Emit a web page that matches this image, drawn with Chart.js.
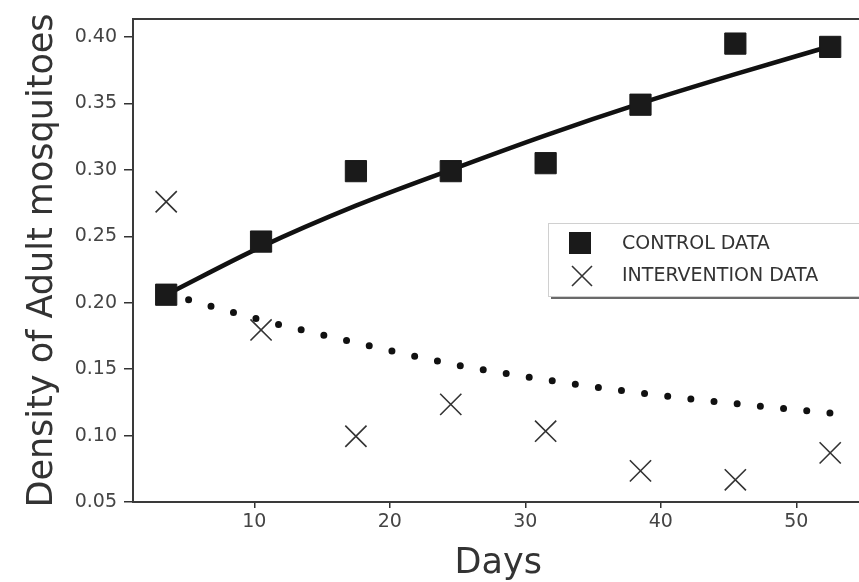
<!DOCTYPE html>
<html>
<head>
<meta charset="utf-8">
<title>Density of Adult mosquitoes</title>
<script src="https://cdn.jsdelivr.net/npm/chart.js@4.4.1/dist/chart.umd.min.js"></script>
<style>
  html, body { margin: 0; padding: 0; background: #fff; overflow: hidden; }
  #wrap { width: 880px; height: 582px; }
</style>
</head>
<body>
<div id="wrap"><canvas id="mosquitoChart" width="880" height="582"></canvas></div>
<script>
// weekly sampling days
const days = [3.5, 10.5, 17.5, 24.5, 31.5, 38.5, 45.5, 52.5];

// observed densities
const controlData = [0.206, 0.246, 0.299, 0.299, 0.305, 0.349, 0.395, 0.3925];
const interventionData = [0.276, 0.1795, 0.0995, 0.1235, 0.1033, 0.0734, 0.0667, 0.087];

// fitted curves
const controlFit = [0.206, 0.242, 0.273, 0.300, 0.326, 0.350, 0.372, 0.393];
const interventionFit = [0.207, 0.187, 0.170, 0.154, 0.142, 0.132, 0.124, 0.117];

const xTicks = [10, 20, 30, 40, 50];
const yTicks = [0.05, 0.10, 0.15, 0.20, 0.25, 0.30, 0.35, 0.40];

const legendLabels = ['CONTROL DATA', 'INTERVENTION DATA'];

const FONT = "'DejaVu Sans', Verdana, sans-serif";
const INK = '#1a1a1a';

const toPoints = (values) => days.map((d, i) => ({ x: d, y: values[i] }));

// frame round the plot area (matplotlib style spines)
const framePlugin = {
  id: 'frame',
  afterDatasetsDraw(chart) {
    const { ctx, chartArea: a } = chart;
    ctx.save();
    ctx.strokeStyle = '#3a3a3a';
    ctx.lineWidth = 2;
    ctx.strokeRect(a.left, a.top, a.right - a.left, a.bottom - a.top);
    ctx.restore();
  }
};

// legend box sitting inside the plot, right side
const boxLegendPlugin = {
  id: 'boxLegend',
  afterDraw(chart) {
    const { ctx } = chart;
    const x = 548, y = 223, w = 400, h = 73;
    ctx.save();
    // shadow
    ctx.fillStyle = '#6a6a6a';
    ctx.fillRect(x + 3, y + 3, w, h);
    ctx.fillStyle = '#fff';
    ctx.fillRect(x, y, w, h);
    ctx.strokeStyle = '#d0d0d0';
    ctx.lineWidth = 1;
    ctx.strokeRect(x + 0.5, y + 0.5, w, h);

    // square marker
    ctx.fillStyle = INK;
    ctx.fillRect(569, 232, 22, 22);
    // x marker
    ctx.strokeStyle = '#333';
    ctx.lineWidth = 1.6;
    ctx.beginPath();
    ctx.moveTo(572, 266); ctx.lineTo(592, 286);
    ctx.moveTo(592, 266); ctx.lineTo(572, 286);
    ctx.stroke();

    ctx.fillStyle = '#333';
    ctx.font = '19px ' + FONT;
    ctx.textBaseline = 'middle';
    ctx.textAlign = 'left';
    ctx.fillText(legendLabels[0], 622, 244);
    ctx.fillText(legendLabels[1], 622, 276);
    ctx.restore();
  }
};

const ctx = document.getElementById('mosquitoChart').getContext('2d');
new Chart(ctx, {
  data: {
    datasets: [
      {
        type: 'scatter',
        label: legendLabels[0],
        data: toPoints(controlData),
        pointStyle: 'rect',
        pointRadius: 15,
        pointBackgroundColor: INK,
        pointBorderColor: INK,
        pointBorderWidth: 1,
        order: 0
      },
      {
        type: 'scatter',
        label: legendLabels[1],
        data: toPoints(interventionData),
        pointStyle: 'crossRot',
        pointRadius: 15,
        pointBorderColor: '#333',
        pointBorderWidth: 1.6,
        order: 0
      },
      {
        type: 'line',
        label: 'control fit',
        data: toPoints(controlFit),
        borderColor: '#111',
        borderWidth: 4.5,
        pointRadius: 0,
        cubicInterpolationMode: 'monotone',
        fill: false,
        order: 1
      },
      {
        type: 'line',
        label: 'intervention fit',
        data: toPoints(interventionFit),
        borderColor: '#111',
        borderWidth: 7,
        borderDash: [0, 23.3],
        borderCapStyle: 'round',
        pointRadius: 0,
        cubicInterpolationMode: 'monotone',
        fill: false,
        order: 1
      }
    ]
  },
  options: {
    responsive: false,
    animation: false,
    layout: { padding: { left: 0, top: 19, right: 6, bottom: 0 } },
    plugins: {
      legend: { display: false },
      tooltip: { enabled: false }
    },
    scales: {
      x: {
        type: 'linear',
        min: 1.05,
        max: 54.95,
        afterBuildTicks: (scale) => { scale.ticks = xTicks.map(v => ({ value: v })); },
        afterFit: (scale) => { scale.height = 80; },
        grid: { drawOnChartArea: false, drawTicks: true, tickLength: 6, color: '#333', lineWidth: 1.5 },
        border: { display: false },
        ticks: { color: '#444', padding: 3, font: { family: FONT, size: 19 } },
        title: {
          display: true,
          text: 'Days',
          color: '#333',
          padding: { top: 0, bottom: 1 },
          font: { family: FONT, size: 35, lineHeight: 1 }
        }
      },
      y: {
        type: 'linear',
        min: 0.05,
        max: 0.4135,
        afterBuildTicks: (scale) => { scale.ticks = yTicks.map(v => ({ value: v })); },
        afterFit: (scale) => { scale.width = 133; },
        grid: { drawOnChartArea: false, drawTicks: true, tickLength: 9, color: '#333', lineWidth: 1.5 },
        border: { display: false },
        ticks: {
          color: '#444',
          padding: 7,
          font: { family: FONT, size: 19 },
          callback: (v) => Number(v).toFixed(2)
        },
        title: {
          display: true,
          text: 'Density of Adult mosquitoes',
          color: '#333',
          padding: { top: 25, bottom: 0 },
          font: { family: FONT, size: 35, lineHeight: 1 }
        }
      }
    }
  },
  plugins: [framePlugin, boxLegendPlugin]
});
</script>
</body>
</html>
